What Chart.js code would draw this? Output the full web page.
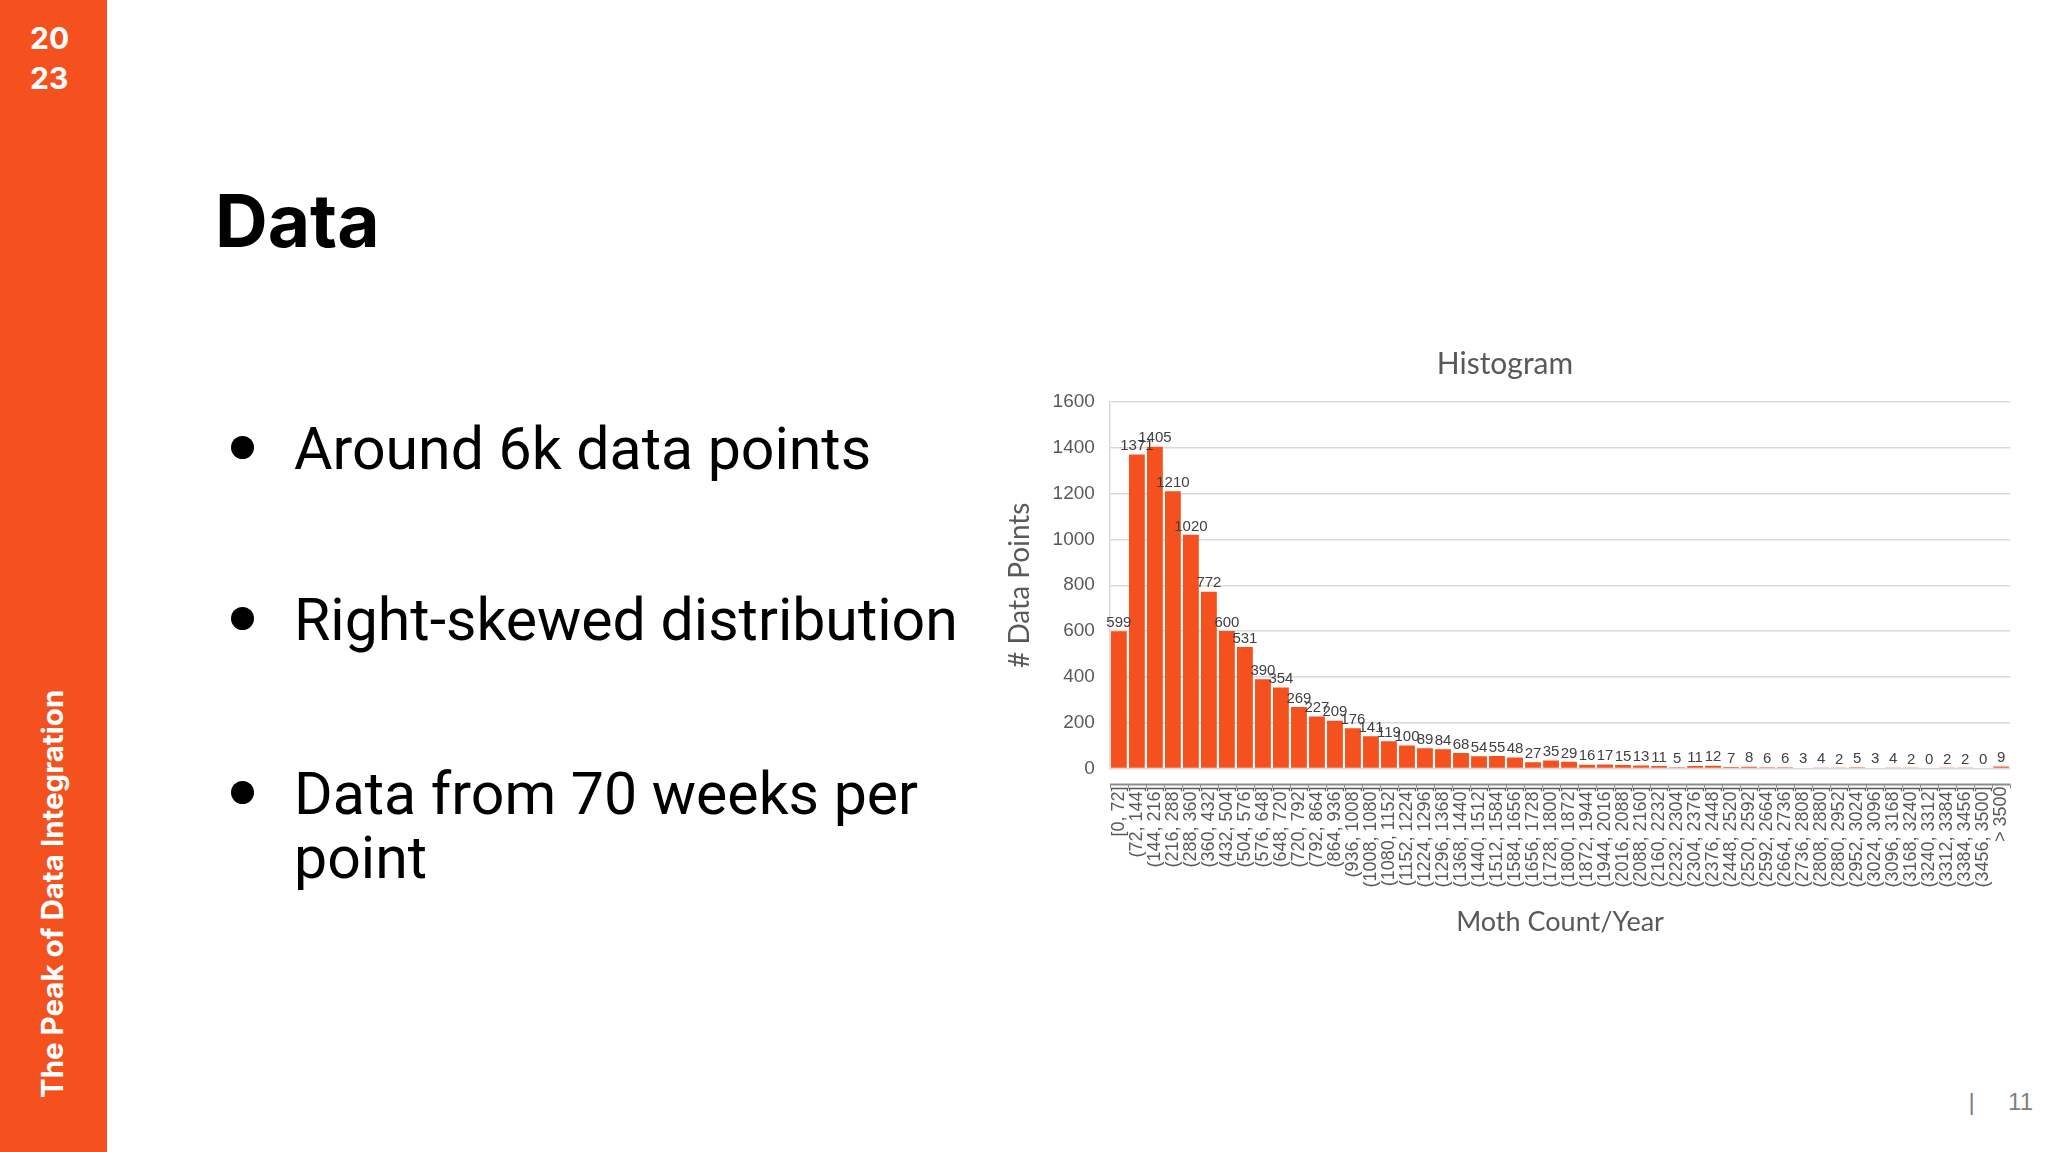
<!DOCTYPE html>
<html>
<head>
<meta charset="utf-8">
<script src="https://cdn.jsdelivr.net/npm/chart.js@4.4.1/dist/chart.umd.min.js"></script>
<style>
  html, body { margin: 0; padding: 0; background: #ffffff; }
  body { width: 2048px; height: 1152px; position: relative; overflow: hidden; font-family: Inter, "Liberation Sans", sans-serif; }
  #sidebar { position: absolute; left: 0; top: 0; width: 107px; height: 1152px; background: #F4511E; }
  #year { position: absolute; left: 30px; top: 18px; color: #fff; font: 700 30px/40px Inter, sans-serif; }
  #vert { position: absolute; left: 38px; top: 1098px; transform-origin: left top; transform: rotate(-90deg);
          color: #fff; font: 700 29.5px/29px Inter, sans-serif; white-space: nowrap; }
  #title { position: absolute; left: 215px; top: 185px; font: 700 73px/72px Inter, sans-serif; color: #000; }
  .bullet { position: absolute; left: 294px; font: 400 59px/64px Roboto, sans-serif; color: #000; white-space: nowrap; }
  .dot { position: absolute; left: 231px; width: 23px; height: 23px; border-radius: 50%; background: #000; }
  #pagenum { position: absolute; right: 15px; top: 1088px; font: 400 24px/28px "Liberation Sans", sans-serif; color: #7f7f7f; white-space: pre; }
  #chartwrap { position: absolute; left: 979px; top: 330px; width: 1062px; height: 621px; }
</style>
</head>
<body>
<div id="sidebar"></div>
<div id="year">20<br>23</div>
<div id="vert">The Peak of Data Integration</div>
<div id="title">Data</div>

<div class="dot" style="top:436px"></div>
<div class="bullet" style="top:417px">Around 6k data points</div>
<div class="dot" style="top:607px"></div>
<div class="bullet" style="top:588px">Right-skewed distribution</div>
<div class="dot" style="top:781px"></div>
<div class="bullet" style="top:762px">Data from 70 weeks per<br>point</div>

<div id="pagenum">|     11</div>

<div id="chartwrap"><canvas id="c" width="1062" height="621"></canvas></div>

<script>
// ---- data ----
const categories = [
  "[0, 72]", "(72, 144]", "(144, 216]", "(216, 288]", "(288, 360]", "(360, 432]",
  "(432, 504]", "(504, 576]", "(576, 648]", "(648, 720]", "(720, 792]", "(792, 864]",
  "(864, 936]", "(936, 1008]", "(1008, 1080]", "(1080, 1152]", "(1152, 1224]", "(1224, 1296]",
  "(1296, 1368]", "(1368, 1440]", "(1440, 1512]", "(1512, 1584]", "(1584, 1656]", "(1656, 1728]",
  "(1728, 1800]", "(1800, 1872]", "(1872, 1944]", "(1944, 2016]", "(2016, 2088]", "(2088, 2160]",
  "(2160, 2232]", "(2232, 2304]", "(2304, 2376]", "(2376, 2448]", "(2448, 2520]", "(2520, 2592]",
  "(2592, 2664]", "(2664, 2736]", "(2736, 2808]", "(2808, 2880]", "(2880, 2952]", "(2952, 3024]",
  "(3024, 3096]", "(3096, 3168]", "(3168, 3240]", "(3240, 3312]", "(3312, 3384]", "(3384, 3456]",
  "(3456, 3500]", "> 3500"
];
const counts = [
  599, 1371, 1405, 1210, 1020, 772, 600, 531, 390, 354,
  269, 227, 209, 176, 141, 119, 100, 89, 84, 68,
  54, 55, 48, 27, 35, 29, 16, 17, 15, 13,
  11, 5, 11, 12, 7, 8, 6, 6, 3, 4,
  2, 5, 3, 4, 2, 0, 2, 2, 0, 9
];
const yMin = 0;
const yMax = 1600;
const yStep = 200;
const chartTitle = "Histogram";
const xTitle = "Moth Count/Year";
const yTitle = "# Data Points";

// ---- plugins ----
const valueLabels = {
  id: 'valueLabels',
  afterDatasetsDraw(chart) {
    const ctx = chart.ctx;
    const meta = chart.getDatasetMeta(0);
    ctx.save();
    ctx.font = '15px "Liberation Sans", Arial, sans-serif';
    ctx.fillStyle = '#404040';
    ctx.textAlign = 'center';
    ctx.textBaseline = 'bottom';
    meta.data.forEach((bar, i) => {
      ctx.fillText(String(counts[i]), bar.x, bar.y - 1);
    });
    ctx.restore();
  }
};
const axisLine = {
  id: 'axisLine',
  afterDraw(chart) {
    const ctx = chart.ctx;
    const a = chart.chartArea;
    const y = a.bottom + 16;
    const n = categories.length;
    const w = (a.right - a.left) / n;
    ctx.save();
    ctx.strokeStyle = '#8c8c8c';
    ctx.lineWidth = 2;
    ctx.beginPath();
    ctx.moveTo(a.left, y);
    ctx.lineTo(a.right, y);
    ctx.stroke();
    ctx.lineWidth = 1;
    ctx.beginPath();
    for (let i = 0; i <= n; i++) {
      const x = Math.round(a.left + i * w) + 0.5;
      ctx.moveTo(x, y);
      ctx.lineTo(x, y + 4);
    }
    ctx.stroke();
    ctx.restore();
  }
};

new Chart(document.getElementById('c'), {
  type: 'bar',
  data: {
    labels: categories,
    datasets: [{
      data: counts,
      backgroundColor: '#F4511E',
      borderWidth: 0,
      barPercentage: 0.88,
      categoryPercentage: 1.0
    }]
  },
  options: {
    responsive: false,
    animation: false,
    devicePixelRatio: 1,
    layout: { padding: { left: 12, right: 22, top: 0, bottom: 0 } },
    plugins: {
      legend: { display: false },
      tooltip: { enabled: false },
      title: {
        display: true,
        text: chartTitle,
        color: '#595959',
        font: { family: 'Lato, "Liberation Sans", sans-serif', size: 30, weight: 'normal', lineHeight: 1.2 },
        padding: { top: 16, bottom: 20 }
      }
    },
    scales: {
      x: {
        grid: { display: false, drawTicks: false },
        border: { display: false },
        ticks: {
          autoSkip: false,
          minRotation: 90,
          maxRotation: 90,
          padding: 18,
          color: '#595959',
          font: { family: '"Liberation Sans", Arial, sans-serif', size: 18 }
        },
        title: {
          display: true,
          text: xTitle,
          color: '#595959',
          font: { family: 'Lato, "Liberation Sans", sans-serif', size: 27, lineHeight: 1.2 },
          padding: { top: 0, bottom: 13 }
        }
      },
      y: {
        min: yMin,
        max: yMax,
        ticks: {
          stepSize: yStep,
          padding: 15,
          color: '#595959',
          font: { family: '"Liberation Sans", Arial, sans-serif', size: 19 },
          callback: (v) => String(v)
        },
        grid: { color: '#d9d9d9', lineWidth: 1.5, drawTicks: false },
        border: { display: true, color: '#d9d9d9', width: 1.5 },
        title: {
          display: true,
          text: yTitle,
          color: '#595959',
          font: { family: 'Lato, "Liberation Sans", sans-serif', size: 28, lineHeight: 1.2 },
          padding: { top: 12, bottom: 1 }
        }
      }
    }
  },
  plugins: [valueLabels, axisLine]
});
</script>
</body>
</html>
